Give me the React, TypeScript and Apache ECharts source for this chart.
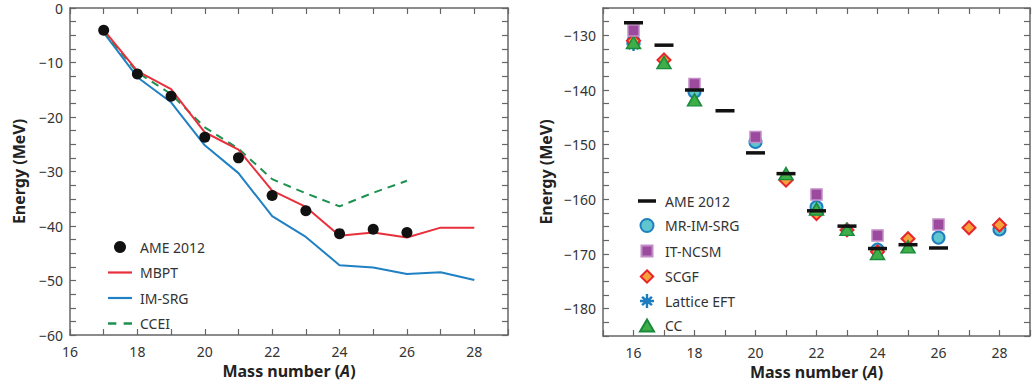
import React, { useEffect, useRef } from "react";
import * as echarts from "echarts";

// ---------- Left panel data ----------
const leftMass = [17, 18, 19, 20, 21, 22, 23, 24, 25, 26, 27, 28];
const ameLeftMass = [17, 18, 19, 20, 21, 22, 23, 24, 25, 26];
const ameLeft = [-4.1, -12.1, -16.2, -23.7, -27.5, -34.4, -37.2, -41.4, -40.6, -41.2];
const mbpt = [-4.0, -11.6, -14.9, -22.8, -26.0, -33.5, -36.5, -41.8, -41.2, -42.1, -40.3, -40.3];
const imsrg = [-4.5, -12.7, -17.3, -25.2, -30.3, -38.2, -42.0, -47.2, -47.6, -48.8, -48.5, -49.9];
const cceiMass = [17, 18, 19, 20, 21, 22, 23, 24, 25, 26];
const ccei = [-4.3, -11.8, -15.8, -21.9, -25.8, -31.4, -34.0, -36.4, -33.9, -31.7];

// ---------- Right panel data ----------
const ameRightMass = [16, 17, 18, 19, 20, 21, 22, 23, 24, 25, 26];
const ameRight = [-127.7, -131.8, -140.0, -143.8, -151.5, -155.3, -162.1, -164.9, -169.0, -168.3, -168.9];
const mrMass = [16, 18, 20, 22, 24, 26, 28];
const mrImSrg = [-131.1, -140.3, -149.5, -161.4, -169.2, -167.0, -165.5];
const ncsmMass = [16, 18, 20, 22, 24, 26];
const itNcsm = [-129.1, -138.9, -148.6, -159.1, -166.6, -164.6];
const scgfMass = [16, 17, 21, 22, 23, 24, 25, 27, 28];
const scgf = [-131.0, -134.5, -156.5, -162.6, -165.6, -169.6, -167.2, -165.2, -164.7];
const latticeMass = [16];
const lattice = [-131.6];
const ccMass = [16, 17, 18, 21, 22, 23, 24, 25];
const cc = [-131.3, -135.0, -141.8, -155.3, -161.8, -165.5, -169.9, -168.7];

// ---------- Labels ----------
const leftLegend = ["AME 2012", "MBPT", "IM-SRG", "CCEI"];
const rightLegend = ["AME 2012", "MR-IM-SRG", "IT-NCSM", "SCGF", "Lattice EFT", "CC"];

const FONT = "'Noto Sans', 'Open Sans', sans-serif";
const AXIS_COLOR = "#666";
const TEXT_COLOR = "#333";

const ASTERISK =
  "path://M-1.4,-8L1.4,-8L1.4,8L-1.4,8Z M-8,-1.4L8,-1.4L8,1.4L-8,1.4Z M4.67,-6.65L6.65,-4.67L-4.67,6.65L-6.65,4.67Z M-6.65,-4.67L-4.67,-6.65L6.65,4.67L4.67,6.65Z";
const LINE_ICON = "path://M0,0L24,0L24,2.2L0,2.2Z";
const DASHED_ICON = "path://M0,0L8,0L8,2.2L0,2.2Z M15,0L23,0L23,2.2L15,2.2Z";

// right legend icons share a 20x14 frame so that they keep their proportions
const FRAME = "M0,0L0.001,0Z M20,14L19.999,14Z ";
const DASH_ICON = "path://" + FRAME + "M1,5.2L19,5.2L19,8.8L1,8.8Z";
const CIRCLE_ICON = "path://" + FRAME + "M3.5,7A6.5,6.5,0,1,1,16.5,7A6.5,6.5,0,1,1,3.5,7Z";
const SQUARE_ICON = "path://" + FRAME + "M4.5,1.5L15.5,1.5L15.5,12.5L4.5,12.5Z";
const DIAMOND_ICON = "path://" + FRAME + "M10,0.8L16.2,7L10,13.2L3.8,7Z";
const TRIANGLE_ICON = "path://" + FRAME + "M10,1L17,13L3,13Z";
const ASTERISK_ICON =
  "path://" +
  FRAME +
  "M8.8,0L11.2,0L11.2,14L8.8,14Z M3,5.8L17,5.8L17,8.2L3,8.2Z M14.1,2.1L15.8,3.8L5.9,11.9L4.2,10.2Z M4.2,3.8L5.9,2.1L15.8,10.2L14.1,11.9Z";

const pairs = (xs: number[], ys: number[]) => xs.map((x, i) => [x, ys[i]]);
const minus = (v: number) => String(v).replace("-", "\u2212");

function xAxisFor(gridIndex: number, min: number, position: "top" | "bottom") {
  const bottom = position === "bottom";
  return {
    type: "value",
    gridIndex,
    position,
    min,
    max: 29,
    interval: 1,
    axisLine: { show: true, onZero: false, lineStyle: { color: AXIS_COLOR, width: 1.5 } },
    axisTick: { show: true, inside: true, length: 6, lineStyle: { color: AXIS_COLOR, width: 1.2 } },
    splitLine: { show: false },
    axisLabel: {
      show: bottom,
      margin: 9,
      color: TEXT_COLOR,
      fontSize: 14,
      fontFamily: FONT,
      formatter: (v: number) => (Math.round(v) % 2 === 0 && v < 29 ? String(v) : ""),
    },
    name: bottom ? "{b|Mass number (}{i|A}{b|)}" : "",
    nameLocation: "middle",
    nameGap: 27,
    nameTextStyle: {
      rich: {
        b: { fontSize: 16, fontWeight: "bold", fontFamily: FONT, color: "#222" },
        i: { fontSize: 16, fontWeight: "bold", fontStyle: "italic", fontFamily: FONT, color: "#222" },
      },
    },
  };
}

function yAxisFor(
  gridIndex: number,
  min: number,
  max: number,
  interval: number,
  position: "left" | "right",
  nameGap: number
) {
  const left = position === "left";
  return {
    type: "value",
    gridIndex,
    position,
    min,
    max,
    interval,
    axisLine: { show: true, onZero: false, lineStyle: { color: AXIS_COLOR, width: 1.5 } },
    axisTick: { show: true, inside: true, length: 6, lineStyle: { color: AXIS_COLOR, width: 1.2 } },
    splitLine: { show: false },
    axisLabel: {
      show: left,
      margin: 7,
      color: TEXT_COLOR,
      fontSize: 14,
      fontFamily: FONT,
      formatter: (v: number) => (Math.abs(v % 10) < 1e-6 ? minus(v) : ""),
    },
    name: left ? "Energy (MeV)" : "",
    nameLocation: "middle",
    nameGap,
    nameTextStyle: { fontSize: 16, fontWeight: "bold", fontFamily: FONT, color: "#222" },
  };
}

export default function App() {
  const ref = useRef<HTMLDivElement>(null);

  useEffect(() => {
    if (!ref.current) return;
    const chart = echarts.init(ref.current, null, { renderer: "svg" });

    const option = {
      animation: false,
      backgroundColor: "#ffffff",
      grid: [
        { left: 70, top: 8, width: 438, height: 327, containLabel: false },
        { left: 603, top: 8, right: -8, height: 328, containLabel: false },
      ],
      xAxis: [
        xAxisFor(0, 16, "bottom"),
        xAxisFor(0, 16, "top"),
        xAxisFor(1, 15, "bottom"),
        xAxisFor(1, 15, "top"),
      ],
      yAxis: [
        yAxisFor(0, -60, 0, 2.5, "left", 43),
        yAxisFor(0, -60, 0, 2.5, "right", 0),
        yAxisFor(1, -185, -125, 2.5, "left", 49),
        yAxisFor(1, -185, -125, 2.5, "right", 0),
      ],
      legend: [
        {
          orient: "vertical",
          left: 103,
          top: 235,
          itemWidth: 24,
          itemHeight: 12,
          itemGap: 11.5,
          textStyle: { fontSize: 14, fontFamily: FONT, color: TEXT_COLOR, padding: [0, 0, 0, 3] },
          data: [
            { name: leftLegend[0], icon: "circle", itemStyle: { color: "#111", opacity: 1 } },
            { name: leftLegend[1], icon: LINE_ICON, itemStyle: { color: "#e8303c" } },
            { name: leftLegend[2], icon: LINE_ICON, itemStyle: { color: "#1f80c3" } },
            { name: leftLegend[3], icon: DASHED_ICON, itemStyle: { color: "#1e9150" } },
          ],
        },
        {
          orient: "vertical",
          left: 631,
          top: 189,
          itemWidth: 20,
          itemHeight: 14,
          itemGap: 9.5,
          textStyle: { fontSize: 14, fontFamily: FONT, color: TEXT_COLOR, padding: [0, 0, 0, 3] },
          data: [
            { name: rightLegend[0] + " ", icon: DASH_ICON, itemStyle: { color: "#111" } },
            { name: rightLegend[1], icon: CIRCLE_ICON },
            { name: rightLegend[2], icon: SQUARE_ICON },
            { name: rightLegend[3], icon: DIAMOND_ICON },
            { name: rightLegend[4], icon: ASTERISK_ICON },
            { name: rightLegend[5], icon: TRIANGLE_ICON },
          ],
        },
      ],
      series: [
        {
          name: leftLegend[1],
          type: "line",
          xAxisIndex: 0,
          yAxisIndex: 0,
          symbol: "none",
          lineStyle: { color: "#e8303c", width: 2 },
          itemStyle: { color: "#e8303c" },
          data: pairs(leftMass, mbpt),
          z: 3,
        },
        {
          name: leftLegend[2],
          type: "line",
          xAxisIndex: 0,
          yAxisIndex: 0,
          symbol: "none",
          lineStyle: { color: "#1f80c3", width: 2 },
          itemStyle: { color: "#1f80c3" },
          data: pairs(leftMass, imsrg),
          z: 2,
        },
        {
          name: leftLegend[3],
          type: "line",
          xAxisIndex: 0,
          yAxisIndex: 0,
          symbol: "none",
          lineStyle: { color: "#1e9150", width: 2, type: [8, 6] },
          itemStyle: { color: "#1e9150" },
          data: pairs(cceiMass, ccei),
          z: 2,
        },
        {
          name: leftLegend[0],
          type: "scatter",
          xAxisIndex: 0,
          yAxisIndex: 0,
          symbol: "circle",
          symbolSize: 11,
          itemStyle: { color: "#111", opacity: 1 },
          data: pairs(ameLeftMass, ameLeft),
          z: 5,
        },
        // right panel
        {
          name: rightLegend[4],
          type: "scatter",
          xAxisIndex: 2,
          yAxisIndex: 2,
          symbol: ASTERISK,
          symbolSize: 14,
          itemStyle: { color: "#1a7ec0", opacity: 1 },
          data: pairs(latticeMass, lattice),
          z: 2,
        },
        {
          name: rightLegend[1],
          type: "scatter",
          xAxisIndex: 2,
          yAxisIndex: 2,
          symbol: "circle",
          symbolSize: 12,
          itemStyle: { color: "#5fc5cf", borderColor: "#1e7fc0", borderWidth: 2, opacity: 1 },
          data: pairs(mrMass, mrImSrg),
          z: 3,
        },
        {
          name: rightLegend[3],
          type: "scatter",
          xAxisIndex: 2,
          yAxisIndex: 2,
          symbol: "diamond",
          symbolSize: 13,
          itemStyle: { color: "#f7a13a", borderColor: "#e6262c", borderWidth: 2, opacity: 1 },
          data: pairs(scgfMass, scgf),
          z: 4,
        },
        {
          name: rightLegend[5],
          type: "scatter",
          xAxisIndex: 2,
          yAxisIndex: 2,
          symbol: "triangle",
          symbolSize: [14, 12],
          itemStyle: { color: "#3fae49", borderColor: "#1a8a3c", borderWidth: 1.5, opacity: 1 },
          data: pairs(ccMass, cc),
          z: 5,
        },
        {
          name: rightLegend[2],
          type: "scatter",
          xAxisIndex: 2,
          yAxisIndex: 2,
          symbol: "rect",
          symbolSize: 11,
          itemStyle: { color: "#9b4a9d", borderColor: "#c48dc8", borderWidth: 1.5, opacity: 1 },
          data: pairs(ncsmMass, itNcsm),
          z: 6,
        },
        {
          name: rightLegend[0] + " ",
          type: "scatter",
          xAxisIndex: 2,
          yAxisIndex: 2,
          symbol: "rect",
          symbolSize: [19, 3.5],
          itemStyle: { color: "#111", opacity: 1 },
          data: pairs(ameRightMass, ameRight),
          z: 7,
        },
      ],
    };

    chart.setOption(option as any);
    return () => chart.dispose();
  }, []);

  return (
    <div
      ref={ref}
      style={{ position: "absolute", left: 0, top: 0, width: 1033, height: 385, background: "#fff" }}
    />
  );
}
